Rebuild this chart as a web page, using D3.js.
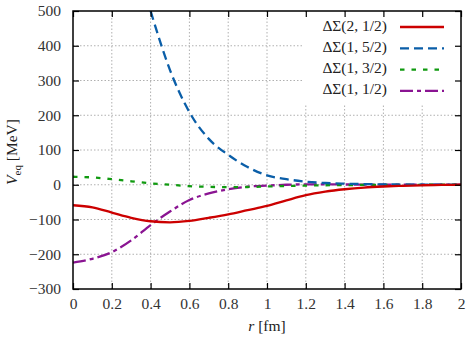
<!DOCTYPE html>
<html>
<head>
<meta charset="utf-8">
<script src="https://cdn.jsdelivr.net/npm/d3@7"></script>
<style>
  body { margin: 0; background: #fff; }
  svg text { font-family: "Liberation Serif", "DejaVu Serif", serif; fill: #222; }
</style>
</head>
<body>
<svg id="chart" width="469" height="339"></svg>
<script>
// radius grid (fm)
const r = [0, 0.1, 0.2, 0.3, 0.4, 0.5, 0.6, 0.7, 0.8, 0.9, 1.0, 1.1, 1.2, 1.3, 1.4, 1.5, 1.6, 1.7, 1.8, 1.9, 2.0];

const v21_2 = [-59, -65, -80, -95, -105, -108, -104, -95, -85, -73, -61, -45, -30, -20, -13, -8, -5, -3, -1.5, -0.6, 0];
const v15_2 = [null, null, null, null, 500, 330, 209, 132, 86, 51, 27, 16, 9, 5, 3, 2, 1, 0.6, 0.3, 0.1, 0];
const v13_2 = [23, 21, 16, 10, 4, 0, -4, -6, -7, -6.5, -5, -3.5, -2.5, -1.5, -1, -0.5, -0.3, -0.2, -0.1, 0, 0];
const v11_2 = [-224, -213, -194, -160, -116, -77, -44, -25, -13, -5.5, -2.5, 0, 1, 1, 0.8, 0.5, 0.3, 0.2, 0.1, 0, 0];

const labels = ["ΔΣ(2, 1/2)", "ΔΣ(1, 5/2)", "ΔΣ(1, 3/2)", "ΔΣ(1, 1/2)"];
const xTicks = [0, 0.2, 0.4, 0.6, 0.8, 1, 1.2, 1.4, 1.6, 1.8, 2];
const yTicks = [-300, -200, -100, 0, 100, 200, 300, 400, 500];

const series = [
  { label: labels[0], values: v21_2, color: "#cc0000", dash: null },
  { label: labels[1], values: v15_2, color: "#0a5ea8", dash: "9,5" },
  { label: labels[2], values: v13_2, color: "#109a10", dash: "4.5,7" },
  { label: labels[3], values: v11_2, color: "#8a1492", dash: "13,4,4,4" },
];

const serif = "'Liberation Serif', 'DejaVu Serif', serif";
const margin = { left: 73, right: 8, top: 11, bottom: 50 };
const W = 469, H = 339;
const svg = d3.select("#chart");

const x = d3.scaleLinear().domain([0, 2]).range([margin.left, W - margin.right]);
const y = d3.scaleLinear().domain([-300, 500]).range([H - margin.bottom, margin.top]);

// grid
svg.append("g").selectAll("line")
  .data(xTicks.slice(1, -1))
  .join("line")
  .attr("x1", d => x(d)).attr("x2", d => x(d))
  .attr("y1", y(-300)).attr("y2", y(500))
  .attr("stroke", "#b0b0b0").attr("stroke-width", 1).attr("stroke-dasharray", "1.5,2");

svg.append("g").selectAll("line")
  .data(yTicks.slice(1, -1))
  .join("line")
  .attr("y1", d => y(d)).attr("y2", d => y(d))
  .attr("x1", x(0)).attr("x2", x(2))
  .attr("stroke", "#b0b0b0").attr("stroke-width", 1).attr("stroke-dasharray", "1.5,2");

svg.append("clipPath").attr("id", "clip")
  .append("rect")
  .attr("x", x(0)).attr("y", y(500))
  .attr("width", x(2) - x(0)).attr("height", y(-300) - y(500));

// curves
const line = d3.line()
  .defined(d => d[1] !== null)
  .x(d => x(d[0]))
  .y(d => y(d[1]))
  .curve(d3.curveMonotoneX);

const curves = svg.append("g").attr("clip-path", "url(#clip)");
// draw order so that the first legend entry ends on top
[...series].reverse().forEach(s => {
  curves.append("path")
    .attr("d", line(r.map((rv, i) => [rv, s.values[i]])))
    .attr("fill", "none")
    .attr("stroke", s.color)
    .attr("stroke-width", 2.3)
    .attr("stroke-dasharray", s.dash);
});

// legend (opaque box hides grid)
const lg = svg.append("g");
lg.append("rect")
  .attr("x", 302).attr("y", y(500) + 1)
  .attr("width", x(2) - 302 - 1).attr("height", 92)
  .attr("fill", "#fff");

series.forEach((s, i) => {
  const ly = 27 + i * 21.3;
  lg.append("text")
    .attr("x", 387).attr("y", ly)
    .attr("text-anchor", "end")
    .attr("dominant-baseline", "middle")
    .style("font-family", serif)
    .style("font-size", "15.5px")
    .text(s.label);
  lg.append("line")
    .attr("x1", 400).attr("x2", 444)
    .attr("y1", ly).attr("y2", ly)
    .attr("stroke", s.color)
    .attr("stroke-width", 2.3)
    .attr("stroke-dasharray", s.dash);
});

// axes with inward ticks, mirrored
const tickLen = 6;
const axB = svg.append("g").attr("transform", `translate(0,${y(-300)})`)
  .call(d3.axisBottom(x).tickValues(xTicks).tickSizeInner(-tickLen).tickSizeOuter(0).tickPadding(9)
    .tickFormat(d => d3.format("")(+d.toFixed(1))));
const axT = svg.append("g").attr("transform", `translate(0,${y(500)})`)
  .call(d3.axisTop(x).tickValues(xTicks).tickSizeInner(-tickLen).tickSizeOuter(0).tickFormat(""));
const axL = svg.append("g").attr("transform", `translate(${x(0)},0)`)
  .call(d3.axisLeft(y).tickValues(yTicks).tickSizeInner(-tickLen).tickSizeOuter(0).tickPadding(12)
    .tickFormat(d => d < 0 ? "\u2212" + Math.abs(d) : d));
const axR = svg.append("g").attr("transform", `translate(${x(2)},0)`)
  .call(d3.axisRight(y).tickValues(yTicks).tickSizeInner(-tickLen).tickSizeOuter(0).tickFormat(""));

[axB, axT, axL, axR].forEach(a => {
  a.attr("font-family", null).attr("font-size", null);
  a.select(".domain").remove();
  a.selectAll(".tick line").attr("stroke", "#000").attr("stroke-width", 1.2);
  a.selectAll(".tick text")
    .style("font-family", serif)
    .style("font-size", "15.5px")
    .style("fill", "#333");
});

// frame
svg.append("rect")
  .attr("x", x(0)).attr("y", y(500))
  .attr("width", x(2) - x(0)).attr("height", y(-300) - y(500))
  .attr("fill", "none").attr("stroke", "#000").attr("stroke-width", 1.5);

// axis titles
const xt = svg.append("text")
  .attr("x", x(1)).attr("y", 331)
  .attr("text-anchor", "middle")
  .style("font-family", serif)
  .style("font-size", "15.5px");
xt.append("tspan").attr("font-style", "italic").text("r");
xt.append("tspan").text(" [fm]");

const yt = svg.append("text")
  .attr("transform", `translate(17,152) rotate(-90)`)
  .attr("text-anchor", "middle")
  .style("font-family", serif)
  .style("font-size", "15.5px");
yt.append("tspan").attr("font-style", "italic").text("V");
yt.append("tspan").style("font-size", "11px").attr("dy", 4).text("eq");
yt.append("tspan").attr("dy", -4).text(" [MeV]");
</script>
</body>
</html>
